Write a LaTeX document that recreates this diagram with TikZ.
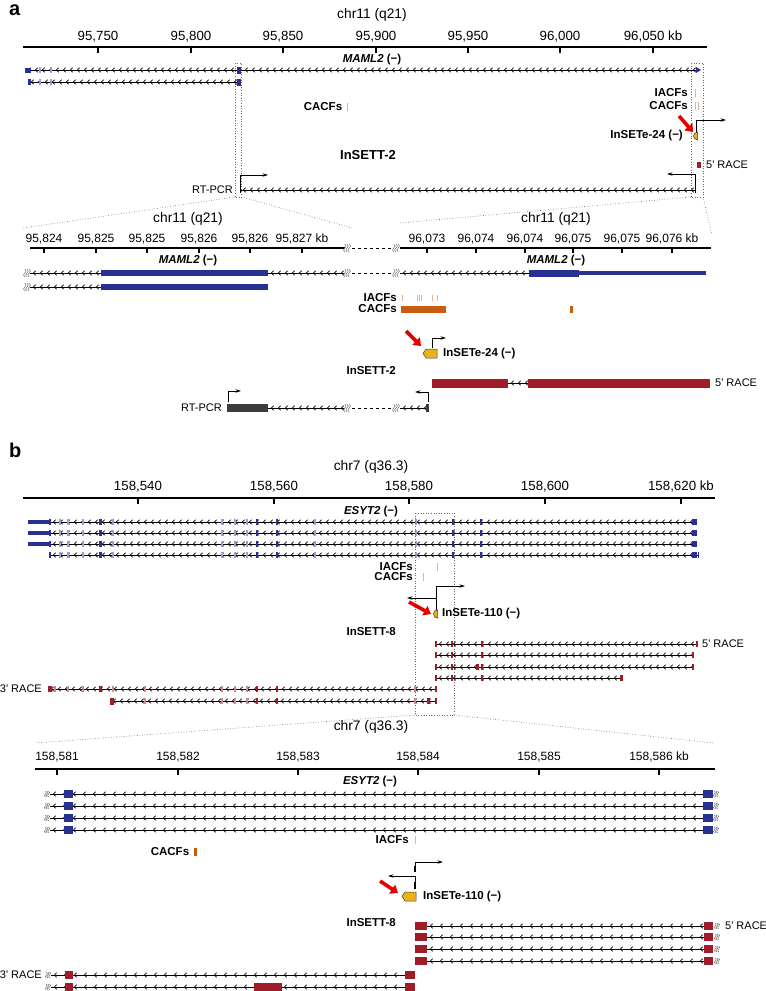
\documentclass[tikz,border=0pt]{standalone}
\usepackage{fontspec}
\setmainfont{Liberation Sans}
\usetikzlibrary{arrows.meta,decorations.markings}
\definecolor{exonblue}{RGB}{40,48,145}
\definecolor{exonpale}{RGB}{150,158,210}
\definecolor{racered}{RGB}{160,28,40}
\definecolor{racepale}{RGB}{210,135,140}
\definecolor{cacforange}{RGB}{200,92,18}
\definecolor{cacfpale}{RGB}{228,180,145}
\definecolor{seteyel}{RGB}{236,176,28}
\definecolor{pcrgray}{RGB}{60,60,60}
\newcommand{\fsz}[1]{\fontsize{#1}{#1}\selectfont}
\newcommand{\brksym}[3][4]{\foreach \dd in {-1,0,1} \draw[gray,line width=0.6pt] (#2+\dd*0.55*#1,#3-#1) .. controls (#2+\dd*0.55*#1+1.1*#1,#3-0.3*#1) and (#2+\dd*0.55*#1-1.1*#1,#3+0.3*#1) .. (#2+\dd*0.55*#1,#3+#1);}
\tikzset{
  intron/.style={line width=0.7pt,postaction={decorate},
    decoration={markings,mark=between positions 3pt and -2pt step #1 with {\arrowreversed{Straight Barb[length=2.2pt,width=4.6pt,line width=0.7pt]}}}},
  intron/.default=7pt,
  ticklbl/.style={font=\fsz{13.3},inner sep=0pt},
  zticklbl/.style={font=\fsz{12},inner sep=0pt},
  chrttl/.style={font=\fsz{13.8},inner sep=0pt},
  trk/.style={font=\bfseries\fsz{11.5},inner sep=0pt},
  note/.style={font=\fsz{11},inner sep=0pt},
  axisln/.style={line width=1.1pt},
  tss/.style={->,line width=0.7pt},
  zoomln/.style={black!60,dotted,line width=0.6pt},
  redarrow/.style={red!90!black,line width=3.6pt,-{Triangle[length=7pt,width=10.5pt]}},
  setebox/.style={fill=seteyel,draw=black!75,line width=0.5pt},
}
\begin{document}
\begin{tikzpicture}[x=1pt,y=-1pt,>={Stealth[length=5.5pt,width=3.4pt]}]
\useasboundingbox (0,0) rectangle (766,991);
%% ---------- panel a: overview
\node[font=\bfseries\fsz{20},anchor=base west,inner sep=0pt] (pa) at (9,15) {a};
\node[chrttl] (chrA) at (372,15) {chr11 (q21)};
\draw[axisln] (23,47) -- (707,47);
\foreach \x/\t in {98/{95,750},191/{95,800},283/{95,850},376/{95,900},468/{95,950},560/{96,000},653/{96,050 kb}} {
  \draw[axisln] (\x,47) -- (\x,53);
  \node[ticklbl] (ta\x) at (\x,37) {\t};
}
\node[trk] (mamlA) at (372,60) {\textit{MAML2} (−)};
\draw[intron] (25,70) -- (700,70);
\draw[intron] (28,82) -- (241,82);
\foreach \y in {70,82} {
  \foreach \x in {40,51} \fill[exonpale] (\x-0.8,\y-3) rectangle (\x+0.8,\y+3);
  \fill[exonblue] (237,\y-3.5) rectangle (241,\y+3.5);
}
\fill[exonblue] (25,67.5) rectangle (31,72.5);
\fill[exonblue] (28,79) rectangle (30.5,85);
\fill[exonblue] (696,67) -- (701,70) -- (696,73) -- cycle;
% zoom boxes
\draw[zoomln] (235,63) rectangle (241.5,197);
\draw[zoomln] (691,63) rectangle (703,197);
\draw[zoomln] (235,197) -- (23,228);
\draw[zoomln] (241.5,197) -- (352,228);
\draw[zoomln] (691,197) -- (400,223);
\draw[zoomln] (703,197) -- (712,235);
% CAGE tracks
\node[trk] (cacfA) at (323,107) {CACFs};
\draw[cacfpale,line width=0.9pt] (347,103) -- (347,111);
\node[trk,anchor=east] (iacfB) at (688,93) {IACFs};
\node[trk,anchor=east] (cacfB) at (688,106) {CACFs};
\draw[cacfpale,line width=0.9pt] (695,89) -- (695,97);
\foreach \x in {695,698} \draw[cacfpale,line width=0.9pt] (\x,102) -- (\x,110);
% InSETe / InSETT
\draw[redarrow] (679,116) -- (693,132);
\draw[tss] (696,134) -- (696,120) -- (726,120);
\draw[setebox] (697.5,132) -- (697.5,140) -- (694.5,138.5) -- (693.5,136) -- (694.5,133.5) -- cycle;
\node[trk,anchor=east] (seteA) at (683,136) {InSETe-24 (−)};
\node[trk,anchor=east,font=\bfseries\fsz{13}] (settA) at (396,155) {InSETT-2};
\fill[racered] (697,162) rectangle (701,168);
\node[note,anchor=west] (raceA) at (706,165) {5\textquotesingle{} RACE};
\draw[intron] (240,190) -- (695,190);
\foreach \x in {240,695} \draw[line width=0.7pt] (\x,187) -- (\x,193);
\node[note,anchor=east] (pcrA) at (233,190) {RT-PCR};
\draw[tss] (240,187) -- (240,175) -- (268,175);
\draw[tss] (695,187) -- (695,174) -- (667,174);
%% ---------- panel a: zoom
\node[chrttl] (chrAl) at (188,219) {chr11 (q21)};
\node[chrttl] (chrAr) at (556,219) {chr11 (q21)};
\draw[axisln] (30,248) -- (345,248);
\draw[axisln] (400,248) -- (711,248);
\draw[dashed,line width=0.8pt] (352,248) -- (393,248);
\brksym{347}{248} \brksym{396}{248}
\foreach \x/\t in {44/{95,824},96/{95,825},147/{95,825},199/{95,826},250/{95,826},302/{95,827 kb},427/{96,073},476/{96,074},525/{96,074},573/{96,075},622/{96,075},672/{96,076 kb}} {
  \draw[axisln] (\x,248) -- (\x,253);
  \node[zticklbl] (tz\x) at (\x,239) {\t};
}
\node[trk] (mamlAl) at (188,261) {\textit{MAML2} (−)};
\node[trk] (mamlAr) at (556,261) {\textit{MAML2} (−)};
\draw[intron] (30,273) -- (345,273);
\draw[intron] (400,273) -- (529,273);
\draw[intron] (30,287) -- (101,287);
\draw[dashed,line width=0.8pt] (352,273) -- (393,273);
\brksym{27}{273} \brksym{347}{273} \brksym{396}{273} \brksym{27}{287}
\fill[exonblue] (101,270) rectangle (268,276);
\fill[exonblue] (101,284) rectangle (268,290);
\fill[exonblue] (529,269.5) rectangle (579,276.5);
\fill[exonblue] (579,271) rectangle (706,275);
\node[trk,anchor=east] (iacfAz) at (397,298) {IACFs};
\node[trk,anchor=east] (cacfAz) at (397,309) {CACFs};
\foreach \x in {402,417,419,421,432,437} \draw[cacfpale,line width=0.9pt] (\x,295) -- (\x,301);
\fill[cacforange] (401,306) rectangle (446,313);
\fill[cacforange] (570,306) rectangle (572.5,313);
\draw[redarrow] (406,331) -- (421,346);
\draw[tss] (432,348) -- (432,338) -- (446,338);
\draw[setebox] (437,349) -- (437,358) -- (426,358) -- (423,353.5) -- (426,349) -- cycle;
\node[trk,anchor=west] (seteAz) at (443,353.5) {InSETe-24 (−)};
\node[trk,anchor=east] (settAz) at (396,371) {InSETT-2};
\draw[intron] (508,383) -- (528,383);
\fill[racered] (432,378.5) rectangle (508,387.5);
\fill[racered] (528,378.5) rectangle (710,387.5);
\node[note,anchor=west] (raceAz) at (715,383) {5\textquotesingle{} RACE};
\node[note,anchor=east] (pcrAz) at (222,408) {RT-PCR};
\draw[intron] (268,408) -- (345,408);
\draw[intron] (400,408) -- (427,408);
\draw[dashed,line width=0.8pt] (352,408) -- (393,408);
\brksym{347}{408} \brksym{396}{408}
\fill[pcrgray] (227,404) rectangle (268,412);
\fill[pcrgray] (426,404) rectangle (429,412);
\draw[tss] (228,402) -- (228,391) -- (241,391);
\draw[tss] (428,402) -- (428,392) -- (415,392);
%% ---------- panel b: overview
\node[font=\bfseries\fsz{20},anchor=base west,inner sep=0pt] (pb) at (9,457) {b};
\node[chrttl] (chrB) at (371,467) {chr7 (q36.3)};
\draw[axisln] (23,498) -- (715,498);
\foreach \x/\t in {138/{158,540},274/{158,560},409/{158,580},545/{158,600},681/{158,620 kb}} {
  \draw[axisln] (\x,498) -- (\x,504);
  \node[ticklbl] (tb\x) at (\x,487) {\t};
}
\node[trk] (esytB) at (371,512) {\textit{ESYT2} (−)};
\foreach \y in {522,533,544,555} {
  \draw[intron] (50,\y) -- (695,\y);
  \foreach \x in {60,68,83,113,222,235,247,315,416} \fill[exonpale] (\x-0.8,\y-3) rectangle (\x+0.8,\y+3);
  \foreach \x in {50,257,277,453,481} \fill[exonblue] (\x-0.8,\y-3) rectangle (\x+0.8,\y+3);
  \fill[exonblue] (99,\y-3) rectangle (102,\y+3);
}
\foreach \y in {522,533,544} {
  \fill[exonblue] (28,\y-2) rectangle (50,\y+2);
  \fill[exonblue] (692,\y-3) rectangle (697,\y+3);
}
\draw[intron] (695,555) -- (698,555);
\fill[exonblue] (692,552) rectangle (697,558);
\fill[exonblue] (697.5,552) rectangle (698.8,558);
\draw[zoomln] (415,513) rectangle (454,715);
\draw[zoomln] (415,715) -- (35,743);
\draw[zoomln] (454,715) -- (713,743);
\node[trk,anchor=east] (iacfBt) at (413,567) {IACFs};
\node[trk,anchor=east] (cacfBt) at (413,577) {CACFs};
\draw[cacfpale,line width=0.9pt] (437,563) -- (437,571);
\draw[cacfpale,line width=0.9pt] (423,573) -- (423,581);
\draw[tss] (436,610) -- (436,586) -- (465,586);
\draw[tss] (436,598) -- (407,598);
\draw[setebox] (437.5,610) -- (437.5,618) -- (434.5,617) -- (433.5,614) -- (434.5,611) -- cycle;
\draw[redarrow] (409,602) -- (431,614);
\node[trk,anchor=west] (seteBt) at (442,614) {InSETe-110 (−)};
\node[trk,anchor=east] (settBt) at (396,632) {InSETT-8};
% 5' RACE
\foreach \y/\e in {644/697,655/693,667/693,678/622} {
  \draw[intron] (436,\y) -- (\e,\y);
  \foreach \x in {436,452,482} \fill[racered] (\x-0.7,\y-3) rectangle (\x+0.7,\y+3);
  \fill[racered] (\e-0.7,\y-3) rectangle (\e+0.7,\y+3);
}
\fill[racered] (476,664) rectangle (479,670);
\fill[racered] (620,675) rectangle (623,681);
\node[note,anchor=west] (raceBt) at (702,644) {5\textquotesingle{} RACE};
% 3' RACE
\draw[intron] (48,689) -- (436,689);
\draw[intron] (110,701) -- (436,701);
\fill[racered] (48,686) rectangle (52,692);
\fill[racered] (110,697.5) rectangle (114,704.5);
\foreach \x in {55,68,83,113} \fill[racepale] (\x-0.8,686) rectangle (\x+0.8,692);
\fill[racered] (99,686) rectangle (102,692);
\foreach \y in {689,701} {
  \foreach \x in {145,222,235,247,415} \fill[racepale] (\x-0.8,\y-3) rectangle (\x+0.8,\y+3);
  \foreach \x in {257,277,436} \fill[racered] (\x-0.7,\y-3) rectangle (\x+0.7,\y+3);
}
\fill[racered] (427,698) rectangle (430,704);
\node[note,anchor=east] (race3Bt) at (42,689) {3\textquotesingle{} RACE};
%% ---------- panel b: zoom
\node[chrttl] (chrBz) at (371,727) {chr7 (q36.3)};
\draw[axisln] (35,769) -- (715,769);
\foreach \x/\t in {57/{158,581},178/{158,582},298/{158,583},418/{158,584},539/{158,585},659/{158,586 kb}} {
  \draw[axisln] (\x,769) -- (\x,775);
  \node[zticklbl] (tbz\x) at (\x,757) {\t};
}
\node[trk] (esytBz) at (370,782) {\textit{ESYT2} (−)};
\foreach \y in {794,806,818,830} {
  \draw[intron=10pt] (50,\y) -- (703,\y);
  \fill[exonblue] (64,\y-4) rectangle (73,\y+4);
  \fill[exonblue] (703,\y-4) rectangle (713,\y+4);
  \brksym[3]{47}{\y} \brksym[3]{716}{\y}
}
\node[trk,anchor=east] (iacfBz) at (409,840) {IACFs};
\draw[cacfpale,line width=0.9pt] (415,836) -- (415,844);
\node[trk] (cacfBz) at (170,852) {CACFs};
\fill[cacforange] (194,848) rectangle (197,856);
\draw[tss] (415,872) -- (415,862) -- (443,862);
\draw[tss] (415,889) -- (415,876) -- (388,876);
\draw[line width=1.8pt] (415,866) -- (415,872) (415,882) -- (415,889);
\draw[setebox] (416,892) -- (416,901) -- (405,901) -- (402,896.5) -- (405,892) -- cycle;
\draw[redarrow] (380,881) -- (398,893);
\node[trk,anchor=west] (seteBz) at (423,897) {InSETe-110 (−)};
\node[trk,anchor=east] (settBz) at (396,923) {InSETT-8};
\foreach \y in {926,937,949,961} {
  \draw[intron=10pt] (427,\y) -- (704,\y);
  \fill[racered] (415,\y-4) rectangle (427,\y+4);
  \fill[racered] (704,\y-4) rectangle (713,\y+4);
  \brksym[3]{717}{\y}
}
\node[note,anchor=west] (raceBz) at (725,926) {5\textquotesingle{} RACE};
\foreach \y in {975,987} {
  \draw[intron=10pt] (51,\y) -- (405,\y);
  \fill[racered] (65,\y-4) rectangle (73,\y+4);
  \fill[racered] (405,\y-4) rectangle (415,\y+4);
  \brksym[3]{48}{\y}
}
\fill[racered] (254,983) rectangle (282,991);
\node[note,anchor=east] (race3Bz) at (42,975) {3\textquotesingle{} RACE};
\end{tikzpicture}
\end{document}
